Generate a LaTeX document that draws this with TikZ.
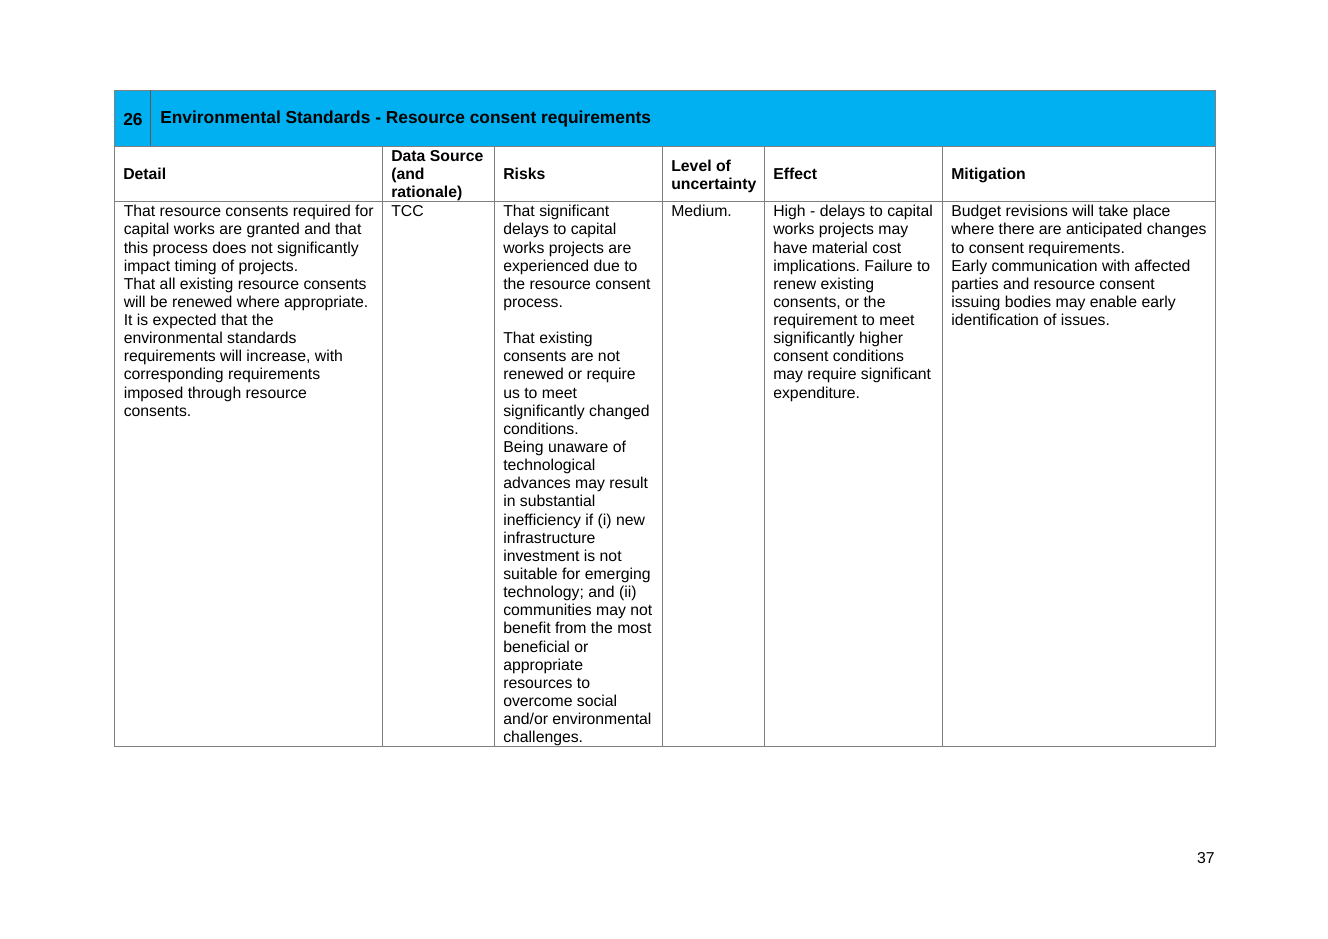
\documentclass[tikz,border=0pt]{standalone}
\usepackage{fontspec}
\setmainfont{Liberation Sans}
\usetikzlibrary{positioning}
\definecolor{headblue}{HTML}{00B0F0}
\definecolor{rulegray}{HTML}{808080}
\frenchspacing

\begin{document}
\begin{tikzpicture}
    [x=0.634pt,y=-0.634pt,
     cell/.style={anchor=north west,inner sep=0pt,align=left,font=\fontsize{10pt}{11.5pt}\selectfont},
     colhead/.style={anchor=west,inner sep=0pt,align=left,font=\fontsize{10pt}{11.5pt}\selectfont\bfseries},
     title/.style={anchor=west,inner sep=0pt,font=\fontsize{11pt}{13pt}\selectfont\bfseries},
     rule/.style={draw=rulegray,line width=0.6pt}]

    \useasboundingbox (0,0) rectangle (1328,939);

    \fill[headblue] (114,90) rectangle (1215,146);
    \draw[rule] (114,90) rectangle (1215,746);
    \draw[rule] (114,146) -- (1215,146);
    \draw[rule] (114,201) -- (1215,201);
    \draw[rule,draw=rulegray!70!black] (150,90) -- (150,146);
    \foreach \x in {382,494,662,764,942}
        \draw[rule] (\x,146) -- (\x,746);

    \node[title] (num) at (123,119.5) {26};
    \node[title] (ttl) at (160,119.5) {Environmental Standards - Resource consent requirements};

    \node[colhead] (hdetail) at (123,173.5) {Detail};
    \node[colhead] (hsource) at (391,175.5) {Data Source\\(and\\rationale)};
    \node[colhead] (hrisks) at (503,173.5) {Risks};
    \node[colhead] (hlevel) at (671,176) {Level of\\uncertainty};
    \node[colhead] (heffect) at (773,173.5) {Effect};
    \node[colhead] (hmitig) at (951,175.2) {Mitigation};

    \node[cell] (detail) at (123.5,205) {That resource consents required for\\
        capital works are granted and that\\
        this process does not significantly\\
        impact timing of projects.\\
        That all existing resource consents\\
        will be renewed where appropriate.\\
        It is expected that the\\
        environmental standards\\
        requirements will increase, with\\
        corresponding requirements\\
        imposed through resource\\
        consents.};
    \node[cell] (source) at (391,205) {TCC};
    \node[cell] (risks) at (503,205) {That significant\\
        delays to capital\\
        works projects are\\
        experienced due to\\
        the resource consent\\
        process.\\
        ~\\
        That existing\\
        consents are not\\
        renewed or require\\
        us to meet\\
        significantly changed\\
        conditions.\\
        Being unaware of\\
        technological\\
        advances may result\\
        in substantial\\
        inefficiency if (i) new\\
        infrastructure\\
        investment is not\\
        suitable for emerging\\
        technology; and (ii)\\
        communities may not\\
        benefit from the most\\
        beneficial or\\
        appropriate\\
        resources to\\
        overcome social\\
        and/or environmental\\
        challenges.};
    \node[cell] (level) at (671,205) {Medium.};
    \node[cell] (effect) at (773,205) {High - delays to capital\\
        works projects may\\
        have material cost\\
        implications. Failure to\\
        renew existing\\
        consents, or the\\
        requirement to meet\\
        significantly higher\\
        consent conditions\\
        may require significant\\
        expenditure.};
    \node[cell] (mitig) at (951,205) {Budget revisions will take place\\
        where there are anticipated changes\\
        to consent requirements.\\
        Early communication with affected\\
        parties and resource consent\\
        issuing bodies may enable early\\
        identification of issues.};

    \node[anchor=east,inner sep=0pt,font=\fontsize{10pt}{11.5pt}\selectfont] (page) at (1215,858) {37};

\end{tikzpicture}
\end{document}
